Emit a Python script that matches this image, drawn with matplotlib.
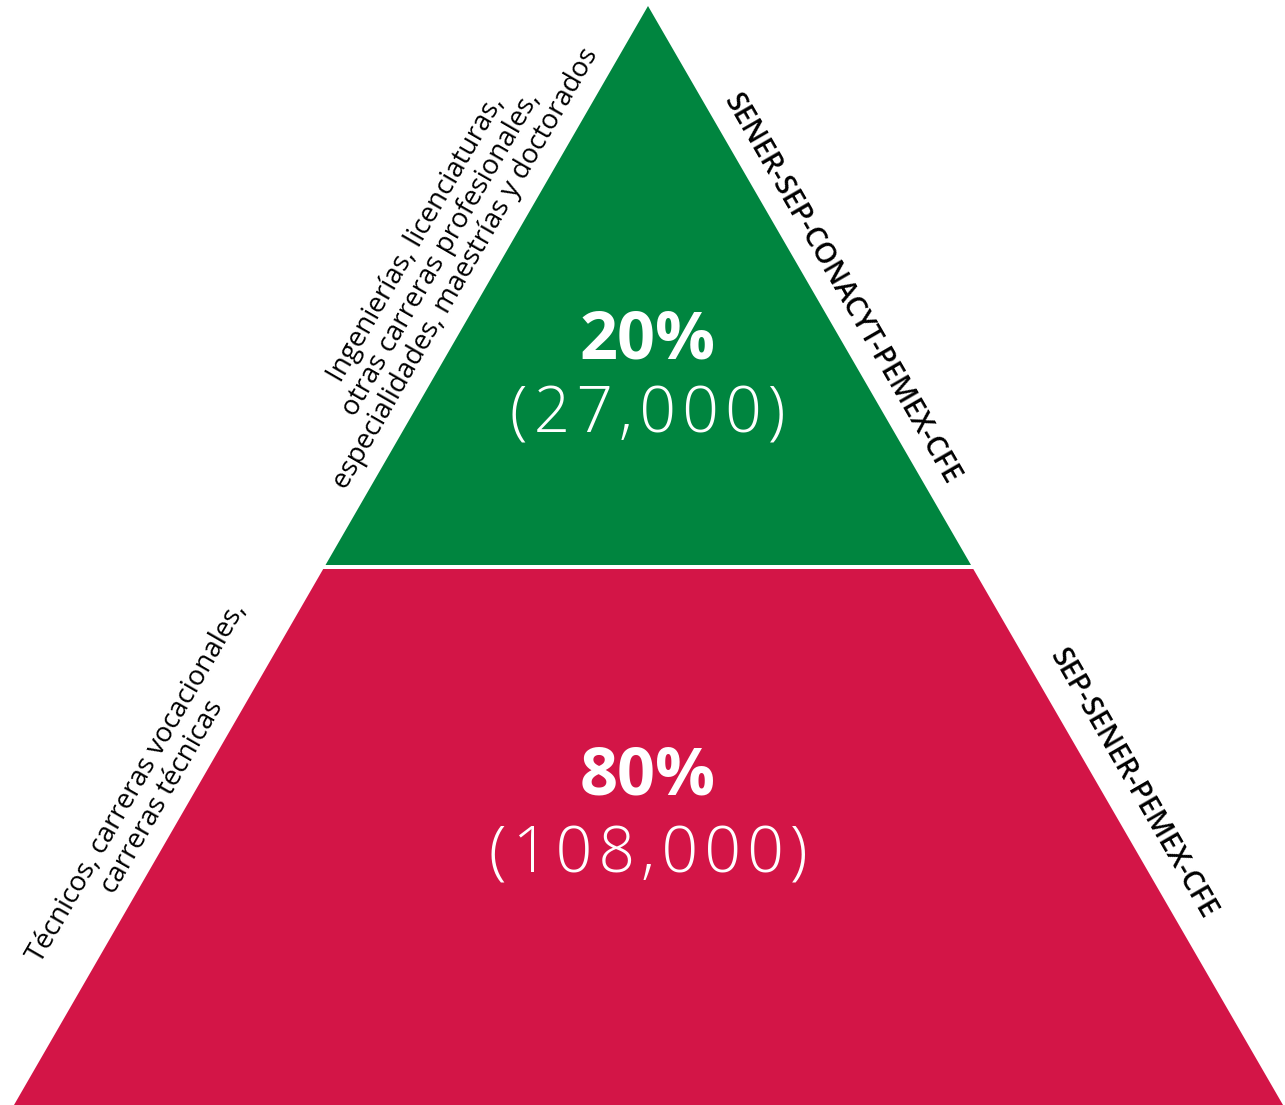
import matplotlib.pyplot as plt
from matplotlib.patches import Polygon

# data
shares = [20, 80]
counts = [27000, 108000]
tier_colors = ["#00853F", "#D31547"]
edu_labels = [
    "Ingenierías, licenciaturas,\notras carreras profesionales,\nespecialidades, maestrías y doctorados",
    "Técnicos, carreras vocacionales,\ncarreras técnicas",
]
org_labels = ["SENER-SEP-CONACYT-PEMEX-CFE", "SEP-SENER-PEMEX-CFE"]

W, H = 1285, 1105
apex = (648, 6)
base_l, base_r = (14, 1105), (1283, 1105)
split_y = 567  # gap centre between the tiers
gap = 2.0

plt.rcParams['font.family'] = ['Open Sans', 'DejaVu Sans']

fig = plt.figure(figsize=(W / 100, H / 100), dpi=100)
ax = fig.add_axes([0, 0, 1, 1])
ax.set_xlim(0, W)
ax.set_ylim(H, 0)
ax.axis("off")


def edge_x(y, side):
    bx = base_l[0] if side == "l" else base_r[0]
    t = (y - apex[1]) / (base_l[1] - apex[1])
    return apex[0] + t * (bx - apex[0])


# top tier (triangle) and bottom tier (trapezoid)
y_top = split_y - gap
top = [apex, (edge_x(y_top, "r"), y_top), (edge_x(y_top, "l"), y_top)]
y_bot = split_y + gap
bot = [(edge_x(y_bot, "l"), y_bot), (edge_x(y_bot, "r"), y_bot), base_r, base_l]
for pts, c in zip([top, bot], tier_colors):
    ax.add_patch(Polygon(pts, closed=True, facecolor=c, edgecolor="none"))

# values inside tiers
value_pos = [(648, 341, 416), (648, 777, 856)]
for (x, y1, y2), s, n in zip(value_pos, shares, counts):
    ax.text(x, y1, f"{s}%", color="white", fontsize=48, fontweight="bold",
            ha="center", va="center")
    spaced = "\u200a".join(f"({n:,})")
    ax.text(x, y2, spaced, color="white", fontsize=46, fontweight="light",
            ha="center", va="center")

# side labels
edu_pos = [(441, 254), (150, 790)]
for (x, y), lab in zip(edu_pos, edu_labels):
    ax.text(x, y, lab, fontsize=20, rotation=60,
            ha="center", va="center", multialignment="center",
            rotation_mode="anchor", linespacing=1.05, color="black")

org_pos = [(842, 289), (1133, 784)]
for (x, y), lab in zip(org_pos, org_labels):
    ax.text(x, y, lab, fontsize=20.5, fontweight="semibold", rotation=-60,
            ha="center", va="center", rotation_mode="anchor", color="black")

fig.savefig("out.png", dpi=100, facecolor="white")
